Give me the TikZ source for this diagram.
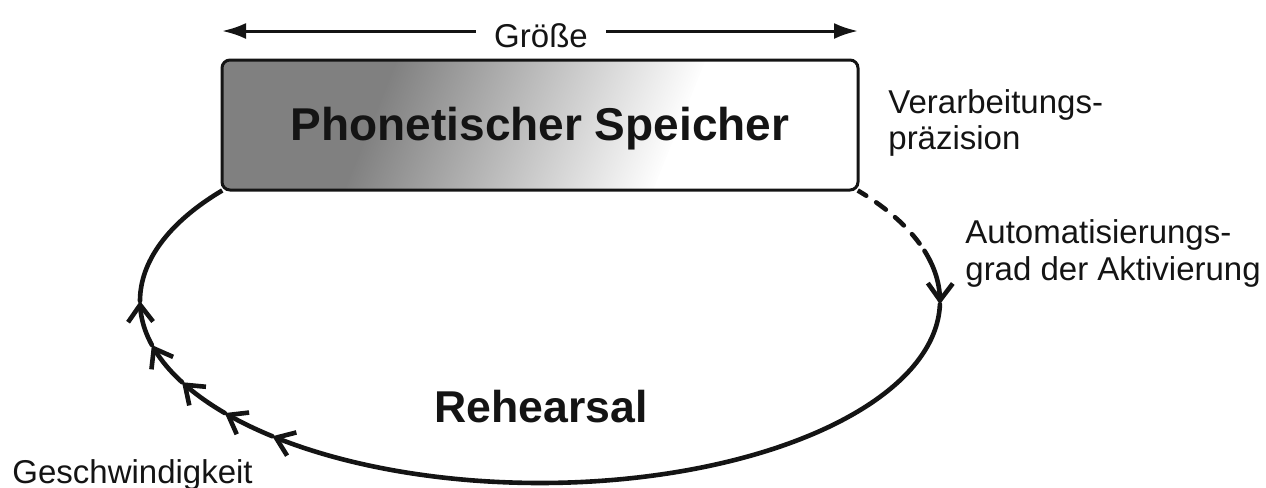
\documentclass[tikz,border=0pt]{standalone}
\usepackage{fontspec}
\setmainfont{Liberation Sans}
\usetikzlibrary{arrows.meta}
\definecolor{darkg}{gray}{0.5}
\definecolor{ink}{HTML}{141414}
\begin{document}
\begin{tikzpicture}[x=0.5pt,y=-0.5pt,
  loopline/.style={line width=2.3pt, ink, line cap=round},
  barb/.style={-{Straight Barb[length=8.5pt,width=12.5pt]}},
  lbl/.style={font=\fontsize{16.5}{18}\selectfont, anchor=base west, inner sep=0pt, text=ink},
  big/.style={font=\fontsize{23}{26}\selectfont\bfseries, anchor=base, inner sep=0pt, text=ink},
  boxst/.style={draw=ink, line width=1.5pt, rounded corners=4pt, minimum width=318pt, minimum height=65pt, inner sep=0pt},
  sizeline/.style={line width=1.5pt, ink, -{Latex[length=12pt,width=8pt]}}
]
\useasboundingbox (0,0) rectangle (1266,488);

% gradient fill of the box
\begin{scope}
  \clip[rounded corners=4pt] (222,60) rectangle (858,190);
  \begin{scope}[transform canvas={rotate around={-22:(525,125)}}]
    \shade[left color=darkg, right color=white] (379,-800) rectangle (671,1000);
    \fill[darkg] (-800,-800) rectangle (382,1000);
    \fill[white] (668,-800) rectangle (2000,1000);
  \end{scope}
\end{scope}

\node[boxst] (box) at (540,125) {};
\node[big] (phon) at (540,140) {Phonetischer Speicher};

% size arrow
\node[font=\fontsize{16.5}{18}\selectfont, text=ink, anchor=base, inner ysep=0pt, inner xsep=9pt] (groesse) at (541,47) {Größe};
\coordinate (gl) at (222,31);
\coordinate (gr) at (858,31);
\draw[sizeline] (groesse.west |- gl) -- (gl);
\draw[sizeline] (groesse.east |- gr) -- (gr);

% rehearsal loop
\draw[loopline, dash pattern=on 6pt off 6pt] (box.south east) -- plot[domain=-37.4:-16, samples=20] ({540+400*cos(\x)},{301+182*sin(\x)});
\draw[loopline, barb] plot[domain=-16:1, samples=20] ({540+400*cos(\x)},{301+182*sin(\x)});
\draw[loopline, barb] plot[domain=1:132, samples=120] ({540+400*cos(\x)},{301+182*sin(\x)});
\draw[loopline, barb] plot[domain=132:142, samples=12] ({540+400*cos(\x)},{301+182*sin(\x)});
\draw[loopline, barb] plot[domain=142:153.5, samples=12] ({540+400*cos(\x)},{301+182*sin(\x)});
\draw[loopline, barb] plot[domain=153.5:166, samples=12] ({540+400*cos(\x)},{301+182*sin(\x)});
\draw[loopline, barb] plot[domain=166:180, samples=12] ({540+400*cos(\x)},{301+182*sin(\x)});
\draw[loopline] plot[domain=180:217.4, samples=40] ({540+400*cos(\x)},{301+182*sin(\x)}) -- (box.south west);

\node[font=\fontsize{22.3}{26}\selectfont\bfseries, anchor=base, inner sep=0pt, text=ink] (reh) at (541,422) {Rehearsal};

% labels
\node[lbl] (v1) at (888,113) {Verarbeitungs-};
\node[lbl] (v2) at (888,149) {präzision};
\node[lbl] (a1) at (965,243) {Automatisierungs-};
\node[lbl] (a2) at (965,280) {grad der Aktivierung};
\node[lbl] (gesch) at (12,483) {Geschwindigkeit};
\end{tikzpicture}
\end{document}
